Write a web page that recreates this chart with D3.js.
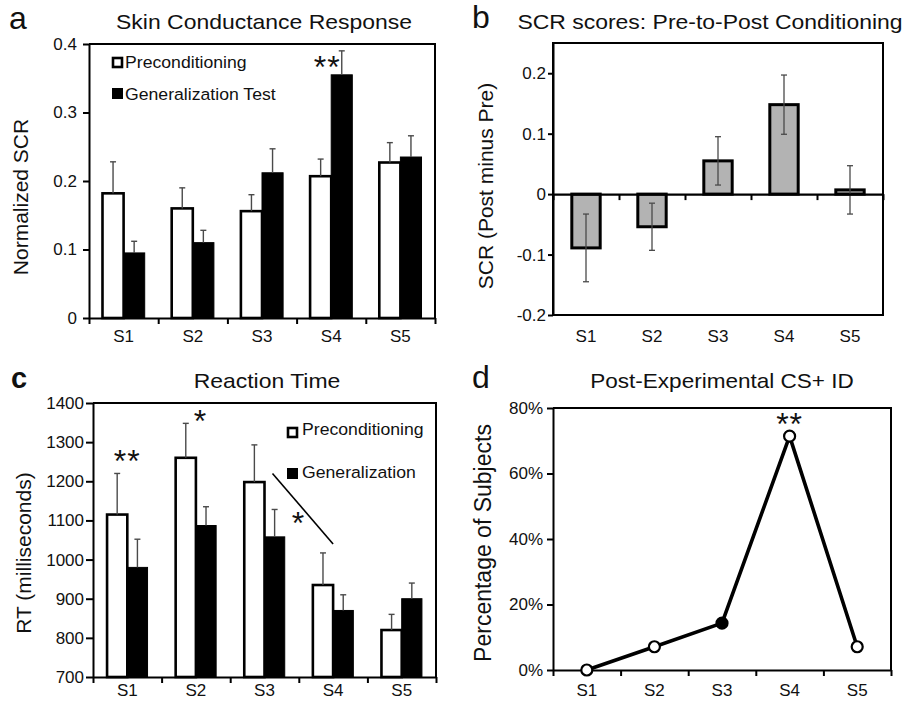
<!DOCTYPE html>
<html><head><meta charset="utf-8">
<script src="https://cdn.jsdelivr.net/npm/d3@7"></script>
<style>
body{margin:0;background:#fff;}
svg{display:block;}
text{font-family:"Liberation Sans",Arial,Helvetica,sans-serif;fill:#111;}
</style></head><body>
<svg id="chart" width="909" height="701"></svg>
<script>
// ---------------- DATA ----------------
const categories = ["S1", "S2", "S3", "S4", "S5"];

// Panel a: Skin Conductance Response
const scrPre    = [0.182, 0.160, 0.156, 0.207, 0.227];
const scrPreErr = [0.046, 0.030, 0.024, 0.025, 0.029];
const scrGen    = [0.095, 0.110, 0.212, 0.355, 0.235];
const scrGenErr = [0.017, 0.018, 0.035, 0.035, 0.031];
const scrTicks  = [0, 0.1, 0.2, 0.3, 0.4];

// Panel b: SCR scores Pre-to-Post
const scrDiff    = [-0.089, -0.054, 0.055, 0.148, 0.007];
const scrDiffErr = [0.056, 0.039, 0.040, 0.049, 0.040];
const diffTicks  = [-0.2, -0.1, 0, 0.1, 0.2];

// Panel c: Reaction Time
const rtPre    = [1115, 1260, 1198, 935, 820];
const rtPreErr = [105, 88, 95, 82, 40];
const rtGen    = [980, 1087, 1058, 870, 900];
const rtGenErr = [72, 48, 70, 40, 40];
const rtTicks  = [700, 800, 900, 1000, 1100, 1200, 1300, 1400];

// Panel d: Post-Experimental CS+ ID
const idPct    = [0, 0.071, 0.143, 0.714, 0.071];
const idFilled = [false, false, true, false, false];
const idTicks  = [0, 0.2, 0.4, 0.6, 0.8];

// ---------------- HELPERS ----------------
const svg = d3.select("#chart");
const SANS = '"Liberation Sans",Arial,Helvetica,sans-serif';
const SERIF = '"Liberation Serif","Times New Roman",serif';
const TICK_FS = 17;

function label(x, y, s, size, o = {}) {
  const t = svg.append("text")
    .attr("transform", `translate(${x},${y}) rotate(${o.rotate || 0}) scale(${o.sx || 1},1)`)
    .attr("text-anchor", o.anchor || "middle")
    .attr("font-size", size)
    .attr("font-family", o.family || SANS)
    .attr("font-weight", o.weight || "normal")
    .text(s);
  if (o.ls) t.attr("letter-spacing", o.ls);
  return t;
}
function styleAxis(g) {
  g.attr("font-size", TICK_FS).attr("font-family", SANS);
  g.select(".domain").attr("stroke", "#000").attr("stroke-width", 2);
  g.selectAll(".tick line").attr("stroke", "#000").attr("stroke-width", 2);
  g.selectAll(".tick text").attr("fill", "#111");
  return g;
}
function boundaryAxis(xr, yPos) {
  const b = d3.scaleLinear().domain([0, categories.length]).range(xr);
  const g = svg.append("g").attr("transform", `translate(0,${yPos})`)
    .call(d3.axisBottom(b).tickValues(d3.range(categories.length + 1)).tickFormat("").tickSize(6).tickSizeOuter(0));
  styleAxis(g);
  return g;
}
function catLabels(x, axisY, baseline) {
  const g = svg.append("g").attr("transform", `translate(0,${axisY})`)
    .call(d3.axisBottom(x).tickSize(0).tickPadding(baseline - axisY - 0.71 * TICK_FS));
  styleAxis(g);
  g.select(".domain").remove();
  return g;
}
function boxLines(xr, yr) {
  svg.append("path")
    .attr("d", `M${xr[0]},${yr[1]}H${xr[1]}V${yr[0]}`)
    .attr("fill", "none").attr("stroke", "#000").attr("stroke-width", 2);
}
function errBar(g, x, y1, y2, cap) {
  g.append("line").attr("x1", x).attr("x2", x).attr("y1", y1).attr("y2", y2);
  g.append("line").attr("x1", x - cap).attr("x2", x + cap).attr("y1", y2).attr("y2", y2);
}

// grouped bar panel (a and c)
function groupedPanel(cfg) {
  const x = d3.scaleBand().domain(categories).range(cfg.xr)
    .paddingInner(cfg.pad).paddingOuter(cfg.pad / 2);
  const xi = d3.scaleBand().domain(["pre", "gen"]).range([0, x.bandwidth()]);
  const y = d3.scaleLinear().domain(cfg.domain).range(cfg.yr);
  const rows = categories.map((c, i) => ({c, i}));

  const bars = svg.append("g");
  bars.selectAll("rect.pre").data(rows).join("rect")
    .attr("x", d => x(d.c) + xi("pre")).attr("width", xi.bandwidth())
    .attr("y", d => y(cfg.pre[d.i])).attr("height", d => y(cfg.domain[0]) - y(cfg.pre[d.i]))
    .attr("fill", "#fff").attr("stroke", "#000").attr("stroke-width", 2.6);
  bars.selectAll("rect.gen").data(rows).join("rect")
    .attr("x", d => x(d.c) + xi("gen")).attr("width", xi.bandwidth())
    .attr("y", d => y(cfg.gen[d.i])).attr("height", d => y(cfg.domain[0]) - y(cfg.gen[d.i]))
    .attr("fill", "#000").attr("stroke", "#000").attr("stroke-width", 1);

  const eg = svg.append("g").attr("stroke", "#4a4a4a").attr("stroke-width", 1.4);
  rows.forEach(d => {
    const xp = x(d.c) + xi("pre") + xi.bandwidth() / 2;
    const xg = x(d.c) + xi("gen") + xi.bandwidth() / 2;
    errBar(eg, xp, y(cfg.pre[d.i]), y(cfg.pre[d.i] + cfg.preErr[d.i]), 3);
    errBar(eg, xg, y(cfg.gen[d.i]), y(cfg.gen[d.i] + cfg.genErr[d.i]), 3);
  });

  boxLines(cfg.xr, cfg.yr);
  const ya = svg.append("g").attr("transform", `translate(${cfg.xr[0]},0)`)
    .call(d3.axisLeft(y).tickValues(cfg.ticks).tickFormat(cfg.fmt)
      .tickSize(cfg.tickSize).tickPadding(cfg.tickPad).tickSizeOuter(0));
  styleAxis(ya);
  boundaryAxis(cfg.xr, cfg.yr[0]);
  catLabels(x, cfg.yr[0], cfg.labelBase);
  return {x, xi, y};
}

// ---------------- PANEL A ----------------
const A = groupedPanel({
  xr: [89, 435], yr: [318, 44], domain: [0, 0.4], ticks: scrTicks,
  pre: scrPre, preErr: scrPreErr, gen: scrGen, genErr: scrGenErr,
  pad: 0.39, tickSize: 6, tickPad: 6, fmt: d => String(d), labelBase: 342
});
label(9, 29, "a", 32, {anchor: "start"});
label(264, 29, "Skin Conductance Response", 20.5, {sx: 1.12});
label(28, 197, "Normalized SCR", 21, {rotate: -90});
svg.append("rect").attr("x", 113).attr("y", 58).attr("width", 9).attr("height", 9)
  .attr("fill", "#fff").attr("stroke", "#000").attr("stroke-width", 2.6);
svg.append("rect").attr("x", 112).attr("y", 88).attr("width", 11).attr("height", 11).attr("fill", "#000");
label(125, 68, "Preconditioning", 16.5, {anchor: "start", sx: 1.07});
label(125, 99.5, "Generalization Test", 16.5, {anchor: "start", sx: 1.07});
label(A.x("S4") + A.xi("gen") - 4, A.y(0.35), "**", 32, {family: SERIF, ls: 1});

// ---------------- PANEL B ----------------
{
  const xr = [553, 883], yr = [315, 43];
  const x = d3.scaleBand().domain(categories).range(xr).paddingInner(0.57).paddingOuter(0.285);
  const y = d3.scaleLinear().domain([-0.2, 0.25]).range(yr);
  const rows = categories.map((c, i) => ({c, i}));
  svg.append("g").selectAll("rect").data(rows).join("rect")
    .attr("x", d => x(d.c)).attr("width", x.bandwidth())
    .attr("y", d => Math.min(y(scrDiff[d.i]), y(0)))
    .attr("height", d => Math.abs(y(scrDiff[d.i]) - y(0)))
    .attr("fill", "#b3b3b3").attr("stroke", "#000").attr("stroke-width", 3);
  const eg = svg.append("g").attr("stroke", "#4a4a4a").attr("stroke-width", 1.3);
  rows.forEach(d => {
    const xc = x(d.c) + x.bandwidth() / 2;
    errBar(eg, xc, y(scrDiff[d.i]), y(scrDiff[d.i] + scrDiffErr[d.i]), 3);
    errBar(eg, xc, y(scrDiff[d.i]), y(scrDiff[d.i] - scrDiffErr[d.i]), 3);
  });
  svg.append("rect").attr("x", xr[0]).attr("y", yr[1]).attr("width", xr[1] - xr[0]).attr("height", yr[0] - yr[1])
    .attr("fill", "none").attr("stroke", "#000").attr("stroke-width", 2);
  const ya = svg.append("g").attr("transform", `translate(${xr[0]},0)`)
    .call(d3.axisLeft(y).tickValues(diffTicks).tickFormat(d => String(d)).tickSize(5).tickPadding(2).tickSizeOuter(0));
  styleAxis(ya);
  boundaryAxis(xr, y(0)).select(".domain").attr("stroke-width", 2.2);
  catLabels(x, yr[0], 342);
  label(472, 28, "b", 32, {anchor: "start"});
  label(710, 29, "SCR scores: Pre-to-Post Conditioning", 20.5, {sx: 1.12});
  label(493, 186, "SCR (Post minus Pre)", 21, {rotate: -90});
}

// ---------------- PANEL C ----------------
const C = groupedPanel({
  xr: [93, 436], yr: [677, 403], domain: [700, 1400], ticks: rtTicks,
  pre: rtPre, preErr: rtPreErr, gen: rtGen, genErr: rtGenErr,
  pad: 0.41, tickSize: 7, tickPad: 2, fmt: d3.format("d"), labelBase: 696
});
label(11, 388, "c", 29, {anchor: "start", weight: "bold"});
label(267, 388, "Reaction Time", 20.5, {sx: 1.12});
label(31, 553, "RT (milliseconds)", 21, {rotate: -90});
svg.append("rect").attr("x", 288).attr("y", 428).attr("width", 9).attr("height", 9)
  .attr("fill", "#fff").attr("stroke", "#000").attr("stroke-width", 2.6);
svg.append("rect").attr("x", 287).attr("y", 468).attr("width", 11).attr("height", 11).attr("fill", "#000");
label(302, 435, "Preconditioning", 16.5, {anchor: "start", sx: 1.07});
label(302, 478, "Generalization", 16.5, {anchor: "start", sx: 1.07});
label(C.x("S1") + C.xi("gen"), C.y(1257) + 13, "**", 32, {family: SERIF, ls: 1});
label(C.x("S2") + C.xi("gen") + 4, C.y(1359) + 13, "*", 32, {family: SERIF});
svg.append("line")
  .attr("x1", C.x("S3") + C.xi("gen") + 8).attr("y1", C.y(1220))
  .attr("x2", C.x("S4") + C.xi("gen")).attr("y2", C.y(1040))
  .attr("stroke", "#000").attr("stroke-width", 1.6);
label(C.x("S4") - 15, C.y(1099) + 13, "*", 32, {family: SERIF});

// ---------------- PANEL D ----------------
{
  const xr = [553, 891], yr = [670, 408];
  const x = d3.scaleBand().domain(categories).range(xr);
  const y = d3.scaleLinear().domain([0, 0.8]).range(yr);
  const pts = categories.map((c, i) => ({c, v: idPct[i], f: idFilled[i]}));
  boxLines(xr, yr);
  const ya = svg.append("g").attr("transform", `translate(${xr[0]},0)`)
    .call(d3.axisLeft(y).tickValues(idTicks).tickFormat(d3.format(".0%")).tickSize(6).tickPadding(4).tickSizeOuter(0));
  styleAxis(ya);
  boundaryAxis(xr, yr[0]);
  const lab = catLabels(x, yr[0], 696);
  lab.selectAll(".tick text").filter(d => d === "S3").attr("font-family", SERIF).attr("fill", "#333");
  const cx = d => x(d.c) + x.bandwidth() / 2;
  svg.append("path").datum(pts)
    .attr("d", d3.line().x(cx).y(d => y(d.v)))
    .attr("fill", "none").attr("stroke", "#000").attr("stroke-width", 3.6).attr("stroke-linejoin", "round");
  svg.append("g").selectAll("circle").data(pts).join("circle")
    .attr("cx", cx).attr("cy", d => y(d.v)).attr("r", 5.5)
    .attr("fill", d => d.f ? "#000" : "#fff").attr("stroke", "#000").attr("stroke-width", 2.2);
  label(472, 388, "d", 32, {anchor: "start"});
  label(722, 388, "Post-Experimental CS+ ID", 20.5, {sx: 1.1});
  label(491, 543, "Percentage of Subjects", 23, {rotate: -90});
  label(cx(pts[3]), y(0.714) - 1, "**", 32, {family: SERIF, ls: 1});
}
</script>
</body></html>
